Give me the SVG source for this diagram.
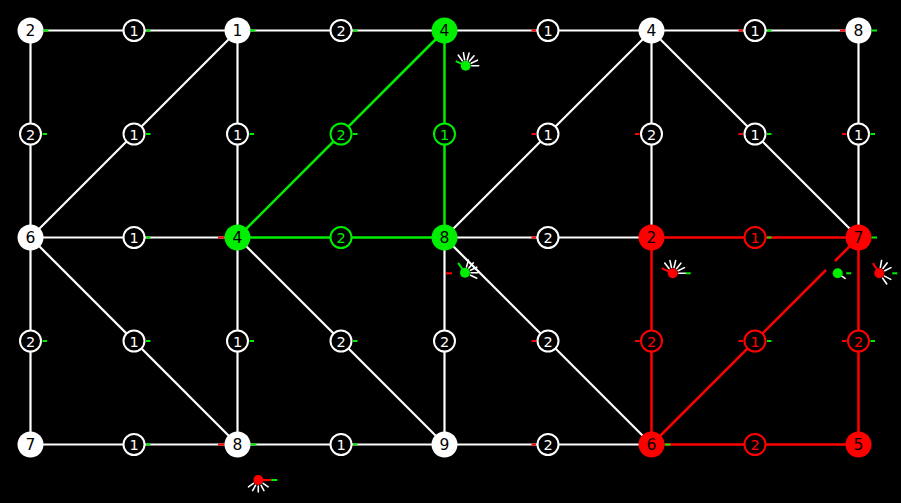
<svg xmlns="http://www.w3.org/2000/svg" width="901" height="503" viewBox="0 0 901 503">
<style>
.bg{fill:#000}
.e{stroke:#fff;stroke-width:2.2;fill:none}
.eg{stroke:#00ee00;stroke-width:2.5;fill:none}
.er{stroke:#f00;stroke-width:2.5;fill:none}
text{font-family:"DejaVu Sans","Liberation Sans",sans-serif;text-anchor:middle;dominant-baseline:central}
.lab circle{fill:#000;stroke:#fff;stroke-width:2}
.lab text{fill:#fff;font-size:14.5px}
.lab.g circle{stroke:#00ee00}
.lab.g text{fill:#00ee00}
.lab.r circle{stroke:#f00}
.lab.r text{fill:#f00}
.node circle{fill:#fff}
.node text{fill:#000;font-size:15.5px}
.node.g circle{fill:#00ee00}
.node.r circle{fill:#f00}
.tr{stroke:#f00;stroke-width:2}
.tg{stroke:#00ee00;stroke-width:2}
.ray{stroke:#fff;stroke-width:1.6;stroke-linecap:round}
</style>
<rect class="bg" x="0" y="0" width="901" height="503"/>
<g id="connectors">
<line class="e" x1="30.5" y1="30.5" x2="237.5" y2="30.5"/>
<line class="e" x1="237.5" y1="30.5" x2="444.5" y2="30.5"/>
<line class="e" x1="444.5" y1="30.5" x2="651.5" y2="30.5"/>
<line class="e" x1="651.5" y1="30.5" x2="858.5" y2="30.5"/>
<line class="e" x1="30.5" y1="237.5" x2="237.5" y2="237.5"/>
<line class="eg" x1="237.5" y1="237.5" x2="444.5" y2="237.5"/>
<line class="e" x1="444.5" y1="237.5" x2="651.5" y2="237.5"/>
<line class="er" x1="651.5" y1="237.5" x2="858.5" y2="237.5"/>
<line class="e" x1="30.5" y1="444.5" x2="237.5" y2="444.5"/>
<line class="e" x1="237.5" y1="444.5" x2="444.5" y2="444.5"/>
<line class="e" x1="444.5" y1="444.5" x2="651.5" y2="444.5"/>
<line class="er" x1="651.5" y1="444.5" x2="858.5" y2="444.5"/>
<line class="e" x1="30.5" y1="30.5" x2="30.5" y2="237.5"/>
<line class="e" x1="30.5" y1="237.5" x2="30.5" y2="444.5"/>
<line class="e" x1="237.5" y1="30.5" x2="237.5" y2="237.5"/>
<line class="e" x1="237.5" y1="237.5" x2="237.5" y2="444.5"/>
<line class="eg" x1="444.5" y1="30.5" x2="444.5" y2="237.5"/>
<line class="e" x1="444.5" y1="237.5" x2="444.5" y2="444.5"/>
<line class="e" x1="651.5" y1="30.5" x2="651.5" y2="237.5"/>
<line class="er" x1="651.5" y1="237.5" x2="651.5" y2="444.5"/>
<line class="e" x1="858.5" y1="30.5" x2="858.5" y2="237.5"/>
<line class="er" x1="858.5" y1="237.5" x2="858.5" y2="444.5"/>
<line class="e" x1="237.5" y1="30.5" x2="30.5" y2="237.5"/>
<line class="e" x1="30.5" y1="237.5" x2="237.5" y2="444.5"/>
<line class="eg" x1="444.5" y1="30.5" x2="237.5" y2="237.5"/>
<line class="e" x1="237.5" y1="237.5" x2="444.5" y2="444.5"/>
<line class="e" x1="651.5" y1="30.5" x2="444.5" y2="237.5"/>
<line class="e" x1="444.5" y1="237.5" x2="651.5" y2="444.5"/>
<line class="e" x1="651.5" y1="30.5" x2="858.5" y2="237.5"/>
<line class="er" x1="651.5" y1="444.5" x2="826" y2="270"/>
<line class="er" x1="835" y1="261" x2="858.5" y2="237.5"/>
</g>
<g id="labels">
<g class="lab"><circle cx="134" cy="30.5" r="10.5"/><text x="134" y="31">1</text><line class="tg" x1="146" y1="30.5" x2="150.5" y2="30.5"/></g>
<g class="lab"><circle cx="341" cy="30.5" r="10.5"/><text x="341" y="31">2</text><line class="tg" x1="353" y1="30.5" x2="357.5" y2="30.5"/></g>
<g class="lab"><circle cx="548" cy="30.5" r="10.5"/><text x="548" y="31">1</text><line class="tr" x1="531.5" y1="30.5" x2="536" y2="30.5"/></g>
<g class="lab"><circle cx="755" cy="30.5" r="10.5"/><text x="755" y="31">1</text><line class="tr" x1="738.5" y1="30.5" x2="743" y2="30.5"/><line class="tg" x1="767" y1="30.5" x2="771.5" y2="30.5"/></g>

<g class="lab"><circle cx="30.5" cy="134" r="10.5"/><text x="30.5" y="134.5">2</text><line class="tg" x1="42.5" y1="134" x2="47" y2="134"/></g>
<g class="lab"><circle cx="134" cy="134" r="10.5"/><text x="134" y="134.5">1</text><line class="tg" x1="146" y1="134" x2="150.5" y2="134"/></g>
<g class="lab"><circle cx="237.5" cy="134" r="10.5"/><text x="237.5" y="134.5">1</text><line class="tg" x1="249.5" y1="134" x2="254" y2="134"/></g>
<g class="lab g"><circle cx="341" cy="134" r="10.5"/><text x="341" y="134.5">2</text><line class="tg" x1="353" y1="134" x2="357.5" y2="134"/></g>
<g class="lab g"><circle cx="444.5" cy="134" r="10.5"/><text x="444.5" y="134.5">1</text></g>
<g class="lab"><circle cx="548" cy="134" r="10.5"/><text x="548" y="134.5">1</text><line class="tr" x1="531.5" y1="134" x2="536" y2="134"/></g>
<g class="lab"><circle cx="651.5" cy="134" r="10.5"/><text x="651.5" y="134.5">2</text><line class="tr" x1="635" y1="134" x2="639.5" y2="134"/></g>
<g class="lab"><circle cx="755" cy="134" r="10.5"/><text x="755" y="134.5">1</text><line class="tr" x1="738.5" y1="134" x2="743" y2="134"/><line class="tg" x1="767" y1="134" x2="771.5" y2="134"/></g>
<g class="lab"><circle cx="858.5" cy="134" r="10.5"/><text x="858.5" y="134.5">1</text><line class="tr" x1="842" y1="134" x2="846.5" y2="134"/><line class="tg" x1="870.5" y1="134" x2="875" y2="134"/></g>

<g class="lab"><circle cx="134" cy="237.5" r="10.5"/><text x="134" y="238">1</text><line class="tg" x1="146" y1="237.5" x2="150.5" y2="237.5"/></g>
<g class="lab g"><circle cx="341" cy="237.5" r="10.5"/><text x="341" y="238">2</text></g>
<g class="lab"><circle cx="548" cy="237.5" r="10.5"/><text x="548" y="238">2</text><line class="tr" x1="531.5" y1="237.5" x2="536" y2="237.5"/></g>
<g class="lab r"><circle cx="755" cy="237.5" r="10.5"/><text x="755" y="238">1</text><line class="tg" x1="767" y1="237.5" x2="771.5" y2="237.5"/></g>

<g class="lab"><circle cx="30.5" cy="341" r="10.5"/><text x="30.5" y="341.5">2</text><line class="tg" x1="42.5" y1="341" x2="47" y2="341"/></g>
<g class="lab"><circle cx="134" cy="341" r="10.5"/><text x="134" y="341.5">1</text><line class="tg" x1="146" y1="341" x2="150.5" y2="341"/></g>
<g class="lab"><circle cx="237.5" cy="341" r="10.5"/><text x="237.5" y="341.5">1</text><line class="tg" x1="249.5" y1="341" x2="254" y2="341"/></g>
<g class="lab"><circle cx="341" cy="341" r="10.5"/><text x="341" y="341.5">2</text><line class="tg" x1="353" y1="341" x2="357.5" y2="341"/></g>
<g class="lab"><circle cx="444.5" cy="341" r="10.5"/><text x="444.5" y="341.5">2</text></g>
<g class="lab"><circle cx="548" cy="341" r="10.5"/><text x="548" y="341.5">2</text><line class="tr" x1="531.5" y1="341" x2="536" y2="341"/></g>
<g class="lab r"><circle cx="651.5" cy="341" r="10.5"/><text x="651.5" y="341.5">2</text><line class="tr" x1="635" y1="341" x2="639.5" y2="341"/></g>
<g class="lab r"><circle cx="755" cy="341" r="10.5"/><text x="755" y="341.5">1</text><line class="tr" x1="738.5" y1="341" x2="743" y2="341"/><line class="tg" x1="767" y1="341" x2="771.5" y2="341"/></g>
<g class="lab r"><circle cx="858.5" cy="341" r="10.5"/><text x="858.5" y="341.5">2</text><line class="tr" x1="842" y1="341" x2="846.5" y2="341"/><line class="tg" x1="870.5" y1="341" x2="875" y2="341"/></g>

<g class="lab"><circle cx="134" cy="444.5" r="10.5"/><text x="134" y="445">1</text><line class="tg" x1="146" y1="444.5" x2="150.5" y2="444.5"/></g>
<g class="lab"><circle cx="341" cy="444.5" r="10.5"/><text x="341" y="445">1</text><line class="tg" x1="353" y1="444.5" x2="357.5" y2="444.5"/></g>
<g class="lab"><circle cx="548" cy="444.5" r="10.5"/><text x="548" y="445">2</text><line class="tr" x1="531.5" y1="444.5" x2="536" y2="444.5"/></g>
<g class="lab r"><circle cx="755" cy="444.5" r="10.5"/><text x="755" y="445">2</text></g>
</g>

<g id="n00" class="node"><circle cx="30.5" cy="30.5" r="13"/><text x="30.5" y="31">2</text><line class="tg" x1="43" y1="30.5" x2="48.5" y2="30.5"/></g>
<g id="n20" class="node"><circle cx="237.5" cy="30.5" r="13"/><text x="237.5" y="31">1</text><line class="tg" x1="250" y1="30.5" x2="255.5" y2="30.5"/></g>
<g id="n40" class="node g"><circle cx="444.5" cy="30.5" r="13"/><text x="444.5" y="31">4</text></g>
<g id="n60" class="node"><circle cx="651.5" cy="30.5" r="13"/><text x="651.5" y="31">4</text></g>
<g id="n80" class="node"><circle cx="858.5" cy="30.5" r="13"/><text x="858.5" y="31">8</text><line class="tr" x1="840" y1="30.5" x2="845.5" y2="30.5"/><line class="tg" x1="871.5" y1="30.5" x2="877" y2="30.5"/></g>
<g id="n02" class="node"><circle cx="30.5" cy="237.5" r="13"/><text x="30.5" y="238">6</text></g>
<g id="n22" class="node g"><circle cx="237.5" cy="237.5" r="13"/><text x="237.5" y="238">4</text><line class="tr" x1="218" y1="237.5" x2="224.5" y2="237.5"/></g>
<g id="n42" class="node g"><circle cx="444.5" cy="237.5" r="13"/><text x="444.5" y="238">8</text></g>
<g id="n62" class="node r"><circle cx="651.5" cy="237.5" r="13"/><text x="651.5" y="238">2</text></g>
<g id="n82" class="node r"><circle cx="858.5" cy="237.5" r="13"/><text x="858.5" y="238">7</text><line class="tg" x1="871.5" y1="237.5" x2="877" y2="237.5"/></g>
<g id="n04" class="node"><circle cx="30.5" cy="444.5" r="13"/><text x="30.5" y="445">7</text></g>
<g id="n24" class="node"><circle cx="237.5" cy="444.5" r="13"/><text x="237.5" y="445">8</text><line class="tr" x1="218" y1="444.5" x2="224.5" y2="444.5"/><line class="tg" x1="250.5" y1="444.5" x2="256.5" y2="444.5"/></g>
<g id="n44" class="node"><circle cx="444.5" cy="444.5" r="13"/><text x="444.5" y="445">9</text></g>
<g id="n64" class="node r"><circle cx="651.5" cy="444.5" r="13"/><text x="651.5" y="445">6</text><line class="tg" x1="665" y1="444.5" x2="670.5" y2="444.5"/></g>
<g id="n84" class="node r"><circle cx="858.5" cy="444.5" r="13"/><text x="858.5" y="445">5</text></g>

<g id="robot1" transform="translate(465.7,65.7)">
<line class="ray" x1="6" y1="0" x2="13" y2="0" transform="rotate(-125)"/>
<line class="ray" x1="6" y1="0" x2="13" y2="0" transform="rotate(-100)"/>
<line class="ray" x1="6" y1="0" x2="13" y2="0" transform="rotate(-75)"/>
<line class="ray" x1="6" y1="0" x2="13" y2="0" transform="rotate(-50)"/>
<line class="ray" x1="6" y1="0" x2="13" y2="0" transform="rotate(-25)"/>
<line class="ray" x1="6" y1="0" x2="13" y2="0" transform="rotate(0)"/>
<line class="tg" x1="0" y1="0" x2="11" y2="0" transform="rotate(-155)"/>
<circle r="5" fill="#00ee00"/>
</g>
<g id="robot2" transform="translate(465,272.7)">
<line class="ray" x1="6" y1="0" x2="13" y2="0" transform="rotate(-75)"/>
<line class="ray" x1="6" y1="0" x2="13" y2="0" transform="rotate(-50)"/>
<line class="ray" x1="6" y1="0" x2="13" y2="0" transform="rotate(-25)"/>
<line class="ray" x1="6" y1="0" x2="13" y2="0" transform="rotate(0)"/>
<line class="ray" x1="6" y1="0" x2="13" y2="0" transform="rotate(25)"/>
<line class="tg" x1="0" y1="0" x2="12" y2="0" transform="rotate(-125)"/>
<circle r="5" fill="#00ee00"/>
<line class="tr" x1="-19" y1="0.6" x2="-13" y2="0.6"/>
</g>
<g id="robot3" transform="translate(672.7,273.3)">
<line class="ray" x1="6" y1="0" x2="13" y2="0" transform="rotate(-128)"/>
<line class="ray" x1="6" y1="0" x2="13" y2="0" transform="rotate(-102)"/>
<line class="ray" x1="6" y1="0" x2="13" y2="0" transform="rotate(-77)"/>
<line class="ray" x1="6" y1="0" x2="13" y2="0" transform="rotate(-51)"/>
<line class="ray" x1="6" y1="0" x2="13" y2="0" transform="rotate(-26)"/>
<line class="ray" x1="6" y1="0" x2="13" y2="0"/>
<line class="tg" x1="13" y1="0" x2="18" y2="0"/>
<line class="tr" x1="0" y1="0" x2="12" y2="0" transform="rotate(-155)"/>
<circle r="5" fill="#f00"/>
</g>
<g id="robot4" transform="translate(837.7,273.3)">
<line class="ray" x1="5" y1="0" x2="9" y2="0" transform="rotate(35)"/>
<line class="tg" x1="8.5" y1="0" x2="13.5" y2="0"/>
<circle r="5" fill="#00ee00"/>
</g>
<g id="robot5" transform="translate(879.3,273.3)">
<line class="ray" x1="6" y1="0" x2="13" y2="0" transform="rotate(-80)"/>
<line class="ray" x1="6" y1="0" x2="13" y2="0" transform="rotate(-53)"/>
<line class="ray" x1="6" y1="0" x2="13" y2="0" transform="rotate(-26)"/>
<line class="ray" x1="6" y1="0" x2="13" y2="0" transform="rotate(28)"/>
<line class="ray" x1="6" y1="0" x2="13" y2="0" transform="rotate(55)"/>
<line class="tg" x1="13" y1="0" x2="18" y2="0"/>
<line class="tr" x1="0" y1="0" x2="12" y2="0" transform="rotate(-122)"/>
<circle r="5" fill="#f00"/>
</g>
<g id="robot6" transform="translate(258.3,480)">
<line class="ray" x1="6" y1="0" x2="12" y2="0" transform="rotate(35)"/>
<line class="ray" x1="6" y1="0" x2="12" y2="0" transform="rotate(62)"/>
<line class="ray" x1="6" y1="0" x2="12" y2="0" transform="rotate(90)"/>
<line class="ray" x1="6" y1="0" x2="12" y2="0" transform="rotate(118)"/>
<line class="ray" x1="6" y1="0" x2="12" y2="0" transform="rotate(145)"/>
<line class="tr" x1="0" y1="0" x2="13" y2="0"/>
<line class="tg" x1="13" y1="0" x2="19" y2="0"/>
<circle r="5" fill="#f00"/>
</g>
</svg>
